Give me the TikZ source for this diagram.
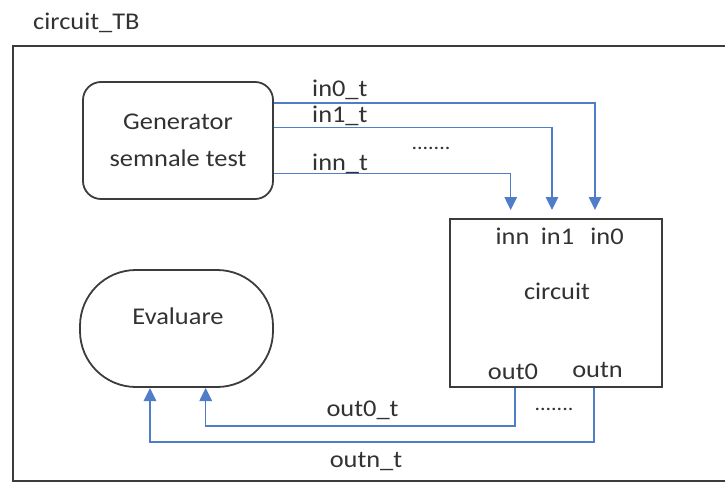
\documentclass[tikz,border=0pt]{standalone}
\usepackage{fontspec}
\setmainfont{Carlito}[FakeStretch=1.1]
\usetikzlibrary{arrows.meta}
\definecolor{wire}{RGB}{80,125,200}
\definecolor{edge}{RGB}{60,60,60}
\definecolor{ink}{RGB}{50,50,50}
\tikzset{
  box/.style={draw=edge, line width=1.8pt, inner sep=0pt},
  txt/.style={font=\fontsize{24}{37}\selectfont, text=ink, inner sep=0pt},
  sig/.style={draw=wire, line width=1.5pt},
  sigarrow/.style={sig, -{Triangle[width=12.5pt,length=13pt]}},
}
\begin{document}
\begin{tikzpicture}[x=1pt,y=-1pt]
\useasboundingbox (0,0) rectangle (725,484);
% title and frame
\node[txt, anchor=base west] (title) at (33,30) {circuit\_TB};
\draw[draw=edge, line width=1.8pt] (725,46) -- (13,46) -- (13,481) -- (725,481);
% blocks
\node[box, rounded corners=18pt, minimum width=190pt, minimum height=117pt,
      txt, align=center] (gen) at (178,140.5) {Generator\\semnale test};
\node[box, rounded corners=56pt, minimum width=193pt, minimum height=117pt] (eval) at (176.5,328.5) {};
\node[txt] (evaltxt) at (178,316) {Evaluare};
\node[box, minimum width=212pt, minimum height=168pt] (circ) at (556,303) {};
\node[txt] (pinn) at (512.5,236) {inn};
\node[txt] (pin1) at (557.5,236) {in1};
\node[txt] (pin0) at (607,236) {in0};
\node[txt] (ctitle) at (557,291) {circuit};
\node[txt] (pout0) at (513,372) {out0};
\node[txt] (poutn) at (597.5,370) {outn};
% arrow ends
\coordinate (t0) at (595,210);
\coordinate (t1) at (552,210);
\coordinate (tn) at (510.7,210);
\coordinate (e0) at (205.7,388);
\coordinate (en) at (150,388);
% inputs
\draw[sigarrow] (gen.east |- 0,103) -- (t0 |- 0,103) -- (t0);
\draw[sigarrow] (gen.east |- 0,127.7) -- (t1 |- 0,127.7) -- (t1);
\draw[sigarrow] (gen.east |- 0,173.3) -- (tn |- 0,173.3) -- (tn);
\node[txt, anchor=base west] (l0) at (312,97) {in0\_t};
\node[txt, anchor=base west] (l1) at (312,123) {in1\_t};
\node[txt, anchor=base west] (ln) at (312,170) {inn\_t};
\node[txt, font=\fontsize{20}{24}\selectfont] (dotsin) at (431,148) {.......};
% outputs
\draw[sigarrow] (circ.south -| 515,0) -- (515,426) -- (e0 |- 0,426) -- (e0);
\draw[sigarrow] (circ.south -| 594,0) -- (594,442) -- (en |- 0,442) -- (en);
\node[txt, anchor=base] (lo0) at (362.5,416) {out0\_t};
\node[txt, anchor=base] (lon) at (366,467) {outn\_t};
\node[txt, font=\fontsize{20}{24}\selectfont] (dotsout) at (554,409) {.......};
\end{tikzpicture}
\end{document}
